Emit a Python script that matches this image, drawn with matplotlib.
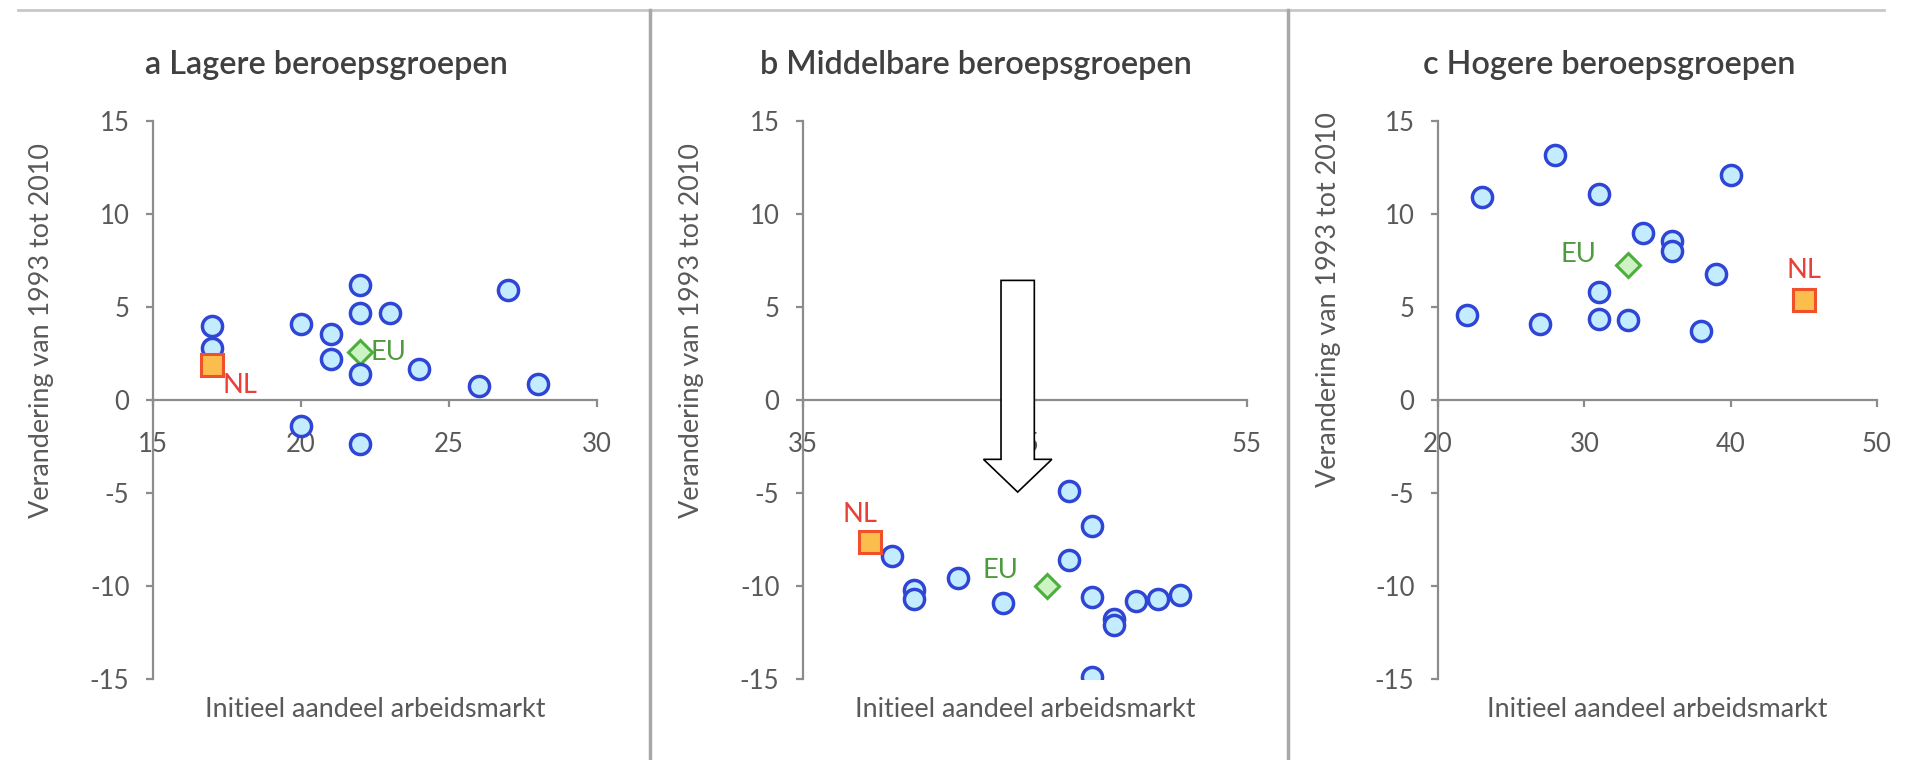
import matplotlib
matplotlib.use("Agg")
from matplotlib import pyplot as plt
from matplotlib.patches import FancyArrow
from matplotlib.lines import Line2D
from matplotlib.textpath import TextPath
from matplotlib.font_manager import FontProperties

plt.rcParams["font.family"] = ["Lato", "DejaVu Sans"]
plt.rcParams["axes.unicode_minus"] = False

# Gegevens
titels = ["a Lagere beroepsgroepen", "b Middelbare beroepsgroepen", "c Hogere beroepsgroepen"]
ylabel = "Verandering van 1993 tot 2010"
xlabel = "Initieel aandeel arbeidsmarkt"

a_x = [17, 17, 20, 21, 21, 22, 22, 23, 22, 24, 26, 28, 27, 20, 22]
a_y = [4.0, 2.8, 4.1, 3.55, 2.2, 6.2, 4.7, 4.7, 1.4, 1.67, 0.74, 0.86, 5.9, -1.38, -2.37]
a_nl = (17, 1.9)
a_eu = (22, 2.56)

b_x = [39, 40, 40, 42, 44, 47, 48, 47, 48, 49, 49, 50, 51, 52, 48]
b_y = [-8.4, -10.2, -10.7, -9.55, -10.9, -4.9, -6.8, -8.6, -10.6, -11.8, -12.1, -10.8, -10.7, -10.5, -14.9]
b_nl = (38, -7.65)
b_eu = (46, -10.0)

c_x = [22, 23, 27, 28, 31, 31, 31, 33, 34, 36, 36, 39, 38, 40]
c_y = [4.55, 10.94, 4.06, 13.15, 11.07, 5.8, 4.36, 4.3, 8.98, 8.53, 8.03, 6.76, 3.73, 12.07]
c_nl = (45, 5.4)
c_eu = (33, 7.27)

xlims = [(15, 30), (35, 55), (20, 50)]
xticks = [[15, 20, 25, 30], [35, 45, 55], [20, 30, 40, 50]]
yticks = [-15, -10, -5, 0, 5, 10, 15]

# label offsets (pixels, rechts / omlaag) van NL en EU
nl_off = [(28, 21), (-10, -28), (0, -29)]
eu_off = [(10, 0), (-29, -15), (-32, -10)]
eu_ha = ["left", "right", "right"]


def maat(s, breedte_px, weight="normal"):
    # lettergrootte (pt) zodat de tekst ongeveer breedte_px pixels breed is
    tp = TextPath((0, 0), s, size=1, prop=FontProperties(family="Lato", weight=weight))
    return breedte_px * 0.72 / tp.get_extents().width


fs_titel = maat(titels[0], 359, "semibold")
fs_label = (maat(xlabel, 343) + maat(ylabel, 369)) / 2
fs_tick = maat("-10", 37)
fs_nl = maat("NL", 32)

# Figuur
fig = plt.figure(figsize=(19.12, 7.6), dpi=100)
lefts = [153, 803, 1438]
widths = [444, 444, 439]
data = [(a_x, a_y, a_nl, a_eu), (b_x, b_y, b_nl, b_eu), (c_x, c_y, c_nl, c_eu)]
ylab_pos = [0.625, 0.625, 0.68]
grijs = "#8c8c8c"
tekst = "#595959"
px = 0.72  # pixels -> punten

for i in range(3):
    ax = fig.add_axes([lefts[i]/1912, 1 - 679/760, widths[i]/1912, 558/760])
    xs, ys, nl, eu = data[i]
    ax.plot(*eu, marker="D", ms=12.5, mfc="#cdf2c4", mec="#4caf3c", mew=2.2, ls="none", zorder=3)
    ax.plot(xs, ys, marker="o", ms=14.5, mfc="#c4ecff", mec="#2f45d6", mew=2.5, ls="none", zorder=4)
    ax.plot(*nl, marker="s", ms=15.5, mfc="#fbbd4c", mec="#f0502a", mew=2.2, ls="none", zorder=5)
    ax.annotate("NL", nl, xytext=(nl_off[i][0]*px, -nl_off[i][1]*px), textcoords="offset points",
                ha="center", va="center", color="#e8413c", fontsize=fs_nl, zorder=6)
    ax.annotate("EU", eu, xytext=(eu_off[i][0]*px, -eu_off[i][1]*px), textcoords="offset points",
                ha=eu_ha[i], va="center", color="#4e9a3e", fontsize=fs_nl, zorder=6)

    ax.set_xlim(*xlims[i])
    ax.set_ylim(-15, 15)
    ax.set_xticks(xticks[i])
    ax.set_yticks(yticks)
    for s in ["top", "right"]:
        ax.spines[s].set_visible(False)
    ax.spines["bottom"].set_position(("data", 0))
    for s in ["left", "bottom"]:
        ax.spines[s].set_color(grijs)
        ax.spines[s].set_linewidth(1.6)
    ax.tick_params(axis="x", direction="out", length=5, width=1.6, color=grijs, pad=18,
                   labelsize=fs_tick, labelcolor=tekst)
    ax.tick_params(axis="y", direction="out", length=5, width=1.6, color=grijs, pad=12,
                   labelsize=fs_tick, labelcolor=tekst)
    ax.patch.set_visible(False)

    ax.text(0.39, 1.10, titels[i], transform=ax.transAxes, ha="center", va="center",
            fontsize=fs_titel, fontweight="semibold", color="#404040")
    ax.text(-0.25, ylab_pos[i], ylabel, transform=ax.transAxes, rotation=90,
            ha="center", va="center", fontsize=fs_label, color=tekst)
    ax.text(0.5, -0.054, xlabel, transform=ax.transAxes, ha="center", va="center",
            fontsize=fs_label, color=tekst)

    if i == 1:
        ax.add_patch(FancyArrow(44.67, 6.43, 0, -11.38, width=1.5, head_width=3.08, head_length=1.76,
                                length_includes_head=True, fc="white", ec="black", lw=1.2, zorder=10))

# kaders tussen de panelen
fig.add_artist(Line2D([18/1912, 1884/1912], [1 - 10/760, 1 - 10/760], color="#c8c8c8", lw=2))
for xp in [650, 1288]:
    fig.add_artist(Line2D([xp/1912, xp/1912], [0, 1 - 10/760], color="#a8a8a8", lw=2.5))

fig.savefig("out.png", dpi=100)
